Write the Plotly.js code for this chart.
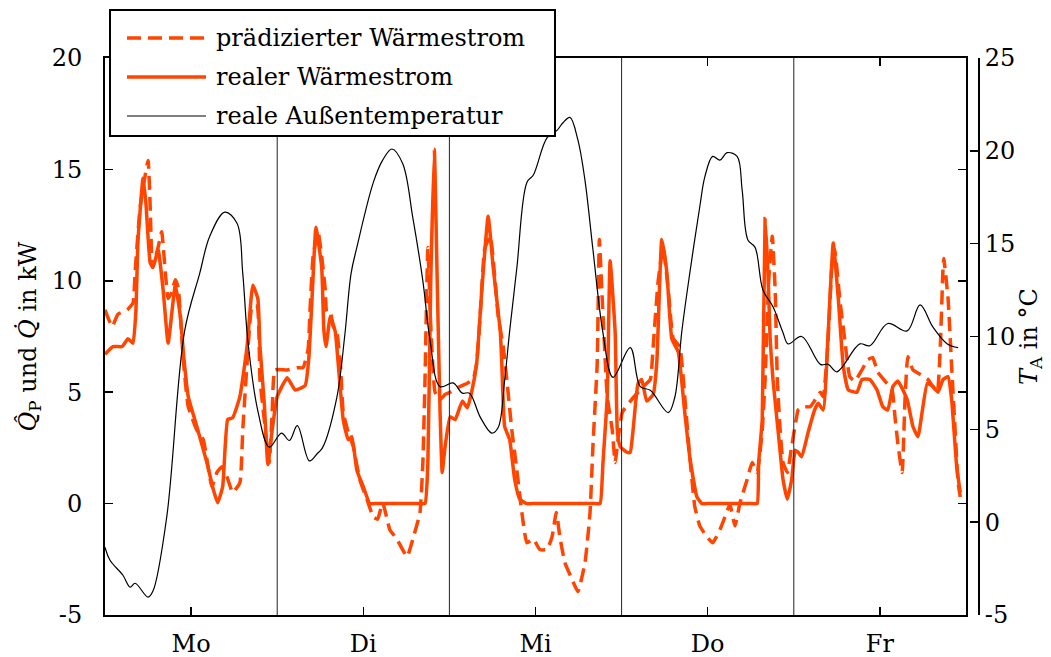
<!DOCTYPE html>
<html><head><meta charset="utf-8">
<script src="https://cdn.plot.ly/plotly-3.0.1.min.js"></script>
<style>body{margin:0;background:#fff}#chart{width:1051px;height:657px}</style>
</head><body><div id="chart"></div>
<script>
// ---- data (x in hours from Monday 00:00) ----
const dayLabels = ['Mo', 'Di', 'Mi', 'Do', 'Fr'];
const dayTicks = [12, 36, 60, 84, 108];
const dayBounds = [24, 48, 72, 96];
const leftTicks = [-5, 0, 5, 10, 15, 20];
const leftTickText = ['-5', '0', '5', '10', '15', '20'];
const rightTicks = [-5, 0, 5, 10, 15, 20, 25];
const rightTickText = ['-5', '0', '5', '10', '15', '20', '25'];

const hPred = [0.0,1.0,1.8,3.1,3.9,4.2,4.9,6.0,6.3,6.6,7.0,7.4,7.9,8.4,8.8,9.3,9.8,10.2,10.9,11.6,12.8,13.7,14.9,15.6,16.3,17.0,17.8,18.8,19.2,19.8,20.5,21.2,21.6,22.0,22.6,22.9,23.3,23.7,25.4,26.8,27.6,28.3,28.6,29.0,29.7,30.2,30.7,30.9,31.4,31.8,32.3,32.8,33.2,33.9,34.6,35.5,36.5,37.4,38.0,38.7,39.7,40.7,42.1,42.9,43.9,44.3,44.6,45.0,45.4,46.0,46.7,47.4,48.1,49.1,50.5,51.3,51.8,52.4,52.9,53.7,54.4,54.8,55.5,56.0,56.7,57.4,58.1,58.8,59.7,60.6,61.6,62.3,62.9,63.4,64.1,65.1,65.9,66.9,67.6,68.0,68.6,68.9,69.3,70.0,70.7,71.1,71.5,72.1,73.4,75.0,76.0,76.4,77.1,77.8,78.5,79.2,80.1,80.8,81.5,82.2,82.9,83.9,84.7,85.7,86.4,87.1,87.8,88.5,89.5,90.2,90.9,91.6,92.0,92.5,93.0,93.4,93.7,94.1,94.5,95.1,95.7,96.4,96.6,97.3,98.3,99.0,99.7,100.1,100.7,101.3,101.7,102.4,103.1,103.8,104.5,105.5,106.3,107.0,107.7,108.7,109.7,110.1,110.5,111.1,111.5,111.9,112.6,113.6,114.7,115.4,116.0,116.4,116.8,116.9,117.5,118.0,118.5,118.9,119.2];
const qPred = [8.7,7.95,8.5,8.7,9.0,10.4,13.3,15.4,13.3,10.6,11.0,11.5,12.2,10.4,9.2,9.5,10.05,9.7,6.5,4.35,3.3,2.87,0.76,1.4,1.66,1.2,0.5,0.94,3.3,6.3,8.85,8.85,5.57,4.35,2.56,1.84,4.1,6.0,6.0,6.1,6.1,6.9,8.85,11.1,12.2,11.1,9.6,8.6,8.6,7.95,7.7,6.3,4.1,3.2,2.56,1.08,0.2,-0.6,-0.7,0.04,-1.17,-1.6,-2.38,-1.6,-0.4,1.84,5.57,11.5,8.0,5.0,4.67,4.9,5.0,5.2,5.4,5.57,6.3,9.0,11.4,12.0,9.9,8.4,7.05,5.57,3.3,1.5,-0.4,-1.76,-1.6,-2.06,-2.06,-1.5,-0.4,-1.5,-2.65,-3.4,-3.95,-2.65,-0.4,2.56,6.3,11.85,9.2,4.8,3.3,1.84,2.87,4.1,4.67,5.25,5.57,7.05,10.0,11.5,9.6,7.4,7.05,4.8,2.1,-0.13,-1.0,-1.5,-1.76,-1.17,-0.6,-0.04,-1.0,0.04,1.08,1.84,1.4,3.3,5.57,10.0,12.0,9.6,5.57,3.3,1.84,1.4,2.56,3.9,4.2,4.35,4.35,4.67,5.0,4.8,6.9,10.6,11.4,9.2,7.36,5.7,5.5,6.0,6.46,6.55,5.9,5.5,5.1,3.9,2.7,1.4,4.67,6.6,6.0,5.8,5.57,5.25,5.0,6.9,10.6,11.0,9.2,6.15,3.2,0.94,0.3];

const hReal = [0.0,1.1,2.4,3.2,3.9,4.3,4.6,5.3,5.7,6.3,6.7,7.4,8.1,8.8,9.8,10.5,11.0,11.6,12.8,14.2,15.1,15.7,16.4,17.1,17.8,18.8,19.8,20.6,21.3,21.6,22.2,22.7,23.3,24.0,25.4,26.5,27.9,28.4,28.9,29.4,30.2,30.5,30.8,31.4,32.1,32.5,33.2,33.9,34.4,35.1,36.0,36.9,37.6,43.9,44.6,45.0,45.4,45.9,46.3,46.7,47.0,47.4,48.1,48.8,49.8,50.5,51.1,51.8,52.5,53.4,54.1,55.1,55.3,55.7,56.4,57.1,57.8,58.8,59.5,68.3,69.0,69.4,70.0,70.4,71.1,71.4,71.8,72.8,73.2,73.6,74.3,74.8,75.5,76.4,76.9,77.6,78.3,79.0,79.9,80.8,81.5,82.5,83.2,83.9,90.2,90.9,91.1,91.6,92.0,92.4,92.7,93.1,93.8,94.5,95.1,95.7,96.2,96.6,97.1,98.0,98.9,99.4,100.1,100.8,101.5,102.2,102.9,103.6,104.8,105.5,106.6,107.6,108.4,109.1,109.8,110.5,111.8,112.6,113.3,114.6,115.4,116.1,116.8,117.5,118.0,118.7,119.2];
const qReal = [6.7,7.05,7.05,7.4,7.2,8.6,11.8,14.6,13.5,10.8,10.6,11.4,9.6,7.2,9.8,8.4,6.5,4.8,3.46,1.84,0.63,0.04,0.76,3.77,3.86,4.8,7.05,9.8,9.2,7.05,4.5,1.75,3.3,4.8,5.65,5.1,5.3,6.5,9.5,12.4,10.6,7.8,7.05,8.4,7.7,6.3,3.77,2.87,3.0,1.5,0.76,0.0,0.0,0.0,0.0,1.84,10.0,15.9,10.0,4.1,1.4,2.56,3.9,3.77,4.6,4.3,5.0,6.3,9.5,12.9,10.6,7.7,6.3,3.46,2.87,1.08,0.2,0.0,0.0,0.0,0.0,1.84,4.8,10.9,7.7,3.3,2.56,2.3,2.3,3.3,5.4,5.57,4.6,4.9,6.3,11.85,10.4,7.4,6.8,4.1,2.1,0.3,0.0,0.0,0.0,0.0,1.84,3.77,12.8,10.4,7.4,5.57,3.3,1.08,0.2,1.08,2.4,2.3,2.1,3.2,4.2,4.5,4.2,7.7,11.7,9.2,6.15,5.1,5.0,5.57,5.57,5.1,4.35,4.2,5.25,5.5,4.67,3.46,3.0,5.4,5.25,5.0,5.57,5.7,4.67,1.66,0.5];

const hTemp = [0.0,0.7,2.5,3.5,4.2,6.0,6.7,8.6,11.1,13.2,14.6,16.7,18.4,19.2,19.9,21.3,22.9,24.6,25.7,26.8,28.5,29.6,30.3,32.3,33.4,34.3,35.1,37.4,38.7,40.0,41.5,42.9,44.3,45.3,46.7,48.5,49.8,50.8,52.3,53.9,54.8,55.7,56.4,57.4,58.8,59.7,61.6,63.0,63.8,64.8,65.9,66.9,68.0,69.4,70.8,73.2,74.6,76.0,78.5,79.4,80.4,81.5,82.9,83.6,84.7,85.7,86.7,88.1,88.8,89.6,90.6,91.7,93.1,94.5,95.2,97.1,99.7,100.8,102.0,105.2,106.6,109.1,111.8,113.6,115.4,117.4,118.9];
const tempA = [-1.35,-2.05,-2.86,-3.5,-3.29,-4.04,-3.7,0.27,10.3,13.4,15.4,16.7,16.1,13.4,9.8,6.0,4.04,4.8,4.4,5.2,3.3,3.7,4.0,6.7,10.0,13.4,14.8,18.3,19.5,20.1,19.3,16.4,13.0,9.8,7.3,7.5,6.95,6.95,5.66,4.8,5.1,7.65,10.3,13.7,18.3,18.7,20.7,21.1,21.5,21.8,20.6,18.4,14.7,10.2,7.8,9.4,7.3,7.1,5.9,6.7,10.3,13.4,17.0,18.6,19.7,19.5,19.9,19.7,17.9,15.2,14.8,12.5,11.6,10.2,9.6,10.0,8.5,8.5,8.1,9.6,9.5,10.7,10.3,11.7,10.5,9.6,9.4];

const legendNames = ['prädizierter Wärmestrom', 'realer Wärmestrom', 'reale Außentemperatur'];

// ---- styling ----
const FONT = 'DejaVu Serif';
const ORANGE = '#ff4500';
const L = 105, R = 979, T = 58, B = 615;      // paper area in px
const PX = px => (px - L) / (R - L);
const PY = py => (B - py) / (B - T);

const traces = [
  {x: hTemp, y: tempA, yaxis: 'y2', type: 'scatter', mode: 'lines', name: legendNames[2],
   line: {color: 'black', width: 1.2, shape: 'spline', smoothing: 1}},
  {x: hReal, y: qReal, type: 'scatter', mode: 'lines', name: legendNames[1],
   line: {color: ORANGE, width: 3.5, shape: 'spline', smoothing: 0.4}},
  {x: hPred, y: qPred, type: 'scatter', mode: 'lines', name: legendNames[0],
   line: {color: ORANGE, width: 3.5, dash: '14px,7px', shape: 'spline', smoothing: 0.4}}
];

const shapes = dayBounds.map(b => ({type: 'line', xref: 'x', yref: 'paper', x0: b, x1: b, y0: 0, y1: 1,
  line: {color: '#222', width: 1}, layer: 'above'}));
// legend box
shapes.push({type: 'rect', xref: 'paper', yref: 'paper', x0: PX(110), x1: PX(555), y0: PY(136), y1: PY(10),
  fillcolor: 'white', line: {color: 'black', width: 2}, layer: 'above'});
const rowsY = [38, 77, 116];
const legStyles = [
  {color: ORANGE, width: 3.5, dash: '14px,7px'},
  {color: ORANGE, width: 3.5},
  {color: 'black', width: 1.2}
];
const annotations = [];
rowsY.forEach((ry, i) => {
  shapes.push({type: 'line', xref: 'paper', yref: 'paper', x0: PX(127), x1: PX(206), y0: PY(ry), y1: PY(ry),
    line: legStyles[i], layer: 'above'});
  annotations.push({xref: 'paper', yref: 'paper', x: PX(214), y: PY(ry), xanchor: 'left', yanchor: 'middle',
    text: legendNames[i], showarrow: false, font: {family: FONT, size: 24, color: 'black'}});
});

const axisCommon = {showgrid: false, zeroline: false, showline: true, linecolor: 'black', linewidth: 2,
  ticks: 'inside', ticklen: 8, tickwidth: 1.5, tickcolor: 'black'};

const layout = {
  width: 1051, height: 657,
  margin: {l: L, r: 1051 - R, t: T, b: 657 - B, pad: 0},
  paper_bgcolor: 'white', plot_bgcolor: 'white',
  showlegend: false,
  font: {family: FONT, size: 24, color: 'black'},
  xaxis: Object.assign({}, axisCommon, {domain: [0, (966 - L) / (R - L)], range: [0, 120],
    tickvals: dayTicks, ticktext: dayLabels, mirror: 'ticks', ticklabelstandoff: 6}),
  yaxis: Object.assign({}, axisCommon, {range: [-5, 20], tickvals: leftTicks, ticktext: leftTickText,
    mirror: 'ticks', ticklabelstandoff: 16,
    title: {text: '<i>Q̂</i><sub>P</sub> und <i>Q̇</i> in kW', font: {family: FONT, size: 24}, standoff: 8}}),
  yaxis2: Object.assign({}, axisCommon, {overlaying: 'y', anchor: 'free', position: 1, side: 'right',
    range: [-5, 25], tickvals: rightTicks, ticktext: rightTickText, ticklabelstandoff: 0,
    title: {text: '<i>T</i><sub>A</sub> in °C', font: {family: FONT, size: 24}, standoff: 0}}),
  shapes: shapes,
  annotations: annotations
};

Plotly.newPlot('chart', traces, layout, {displayModeBar: false, staticPlot: true});
</script>
</body></html>
